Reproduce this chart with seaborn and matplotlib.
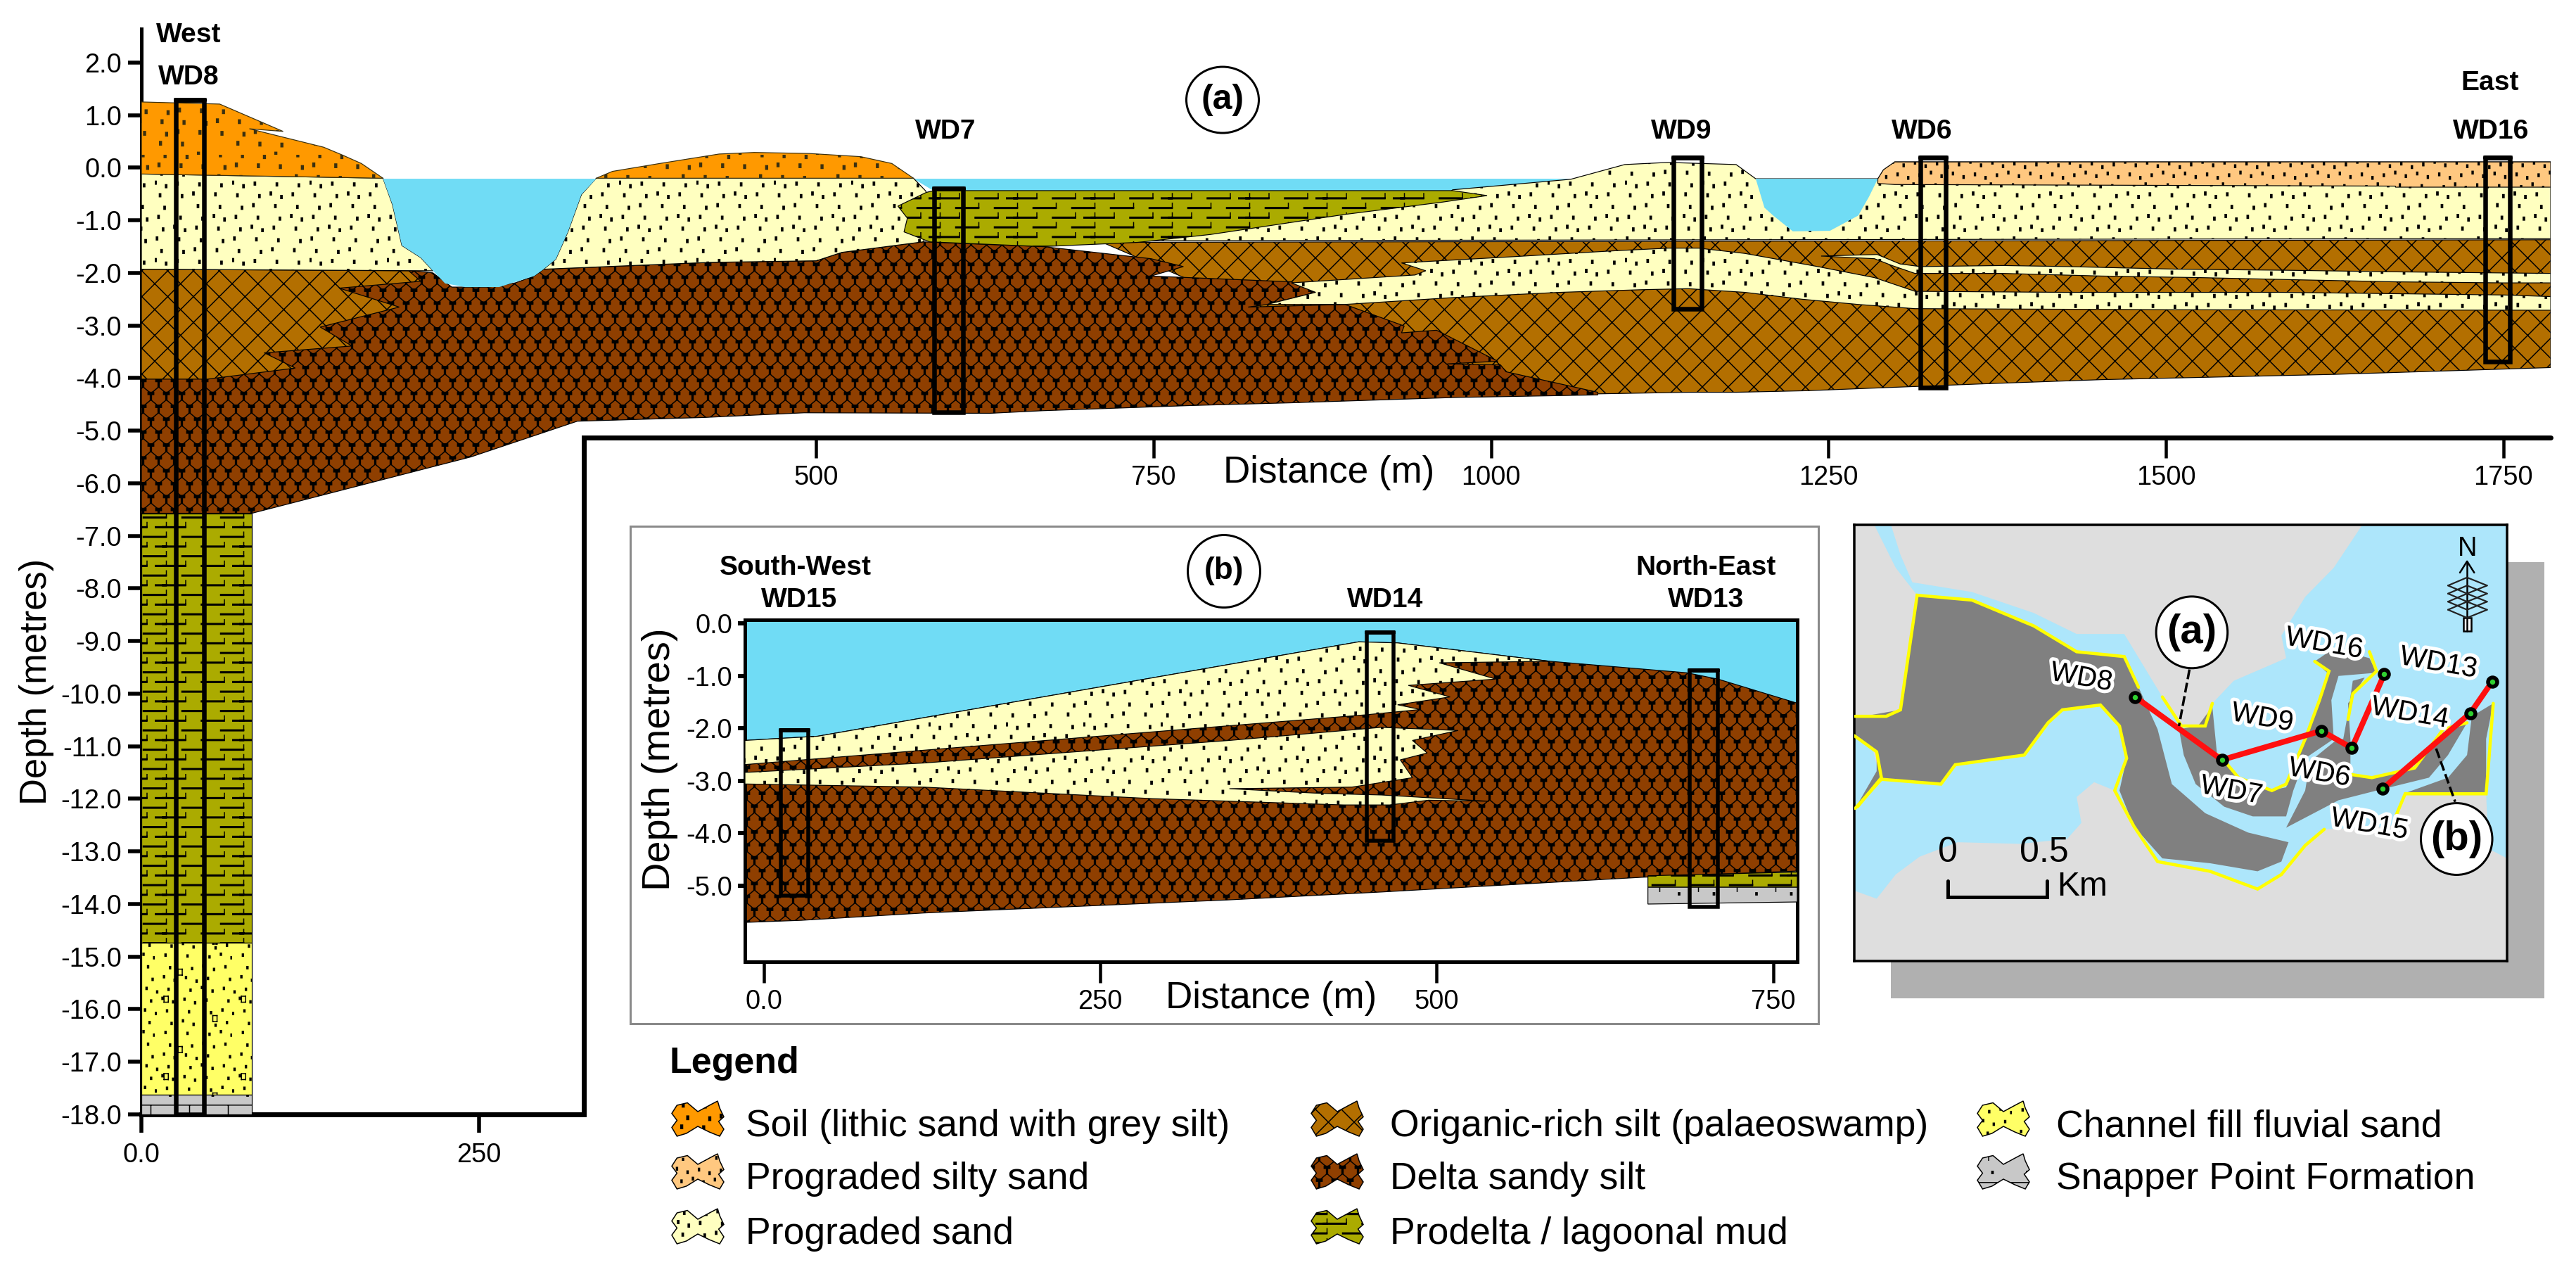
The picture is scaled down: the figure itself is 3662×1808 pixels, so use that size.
import numpy as np
import matplotlib
matplotlib.use("Agg")
import matplotlib.pyplot as plt
import matplotlib.hatch as mh
import matplotlib.patheffects as pe
from matplotlib.path import Path
from matplotlib.patches import Ellipse, Rectangle, Polygon
import seaborn as sns

W, H, DPI = 3662, 1808, 110
def pt(px):
    return px * 72 / DPI

# ---------- section (a): distance (m), depth (m) ----------
water_band_x = [572, 1059, 971.5, 587]
water_band_d = [-0.21, -0.21, -0.44, -0.44]
water_w_x = [179, 186, 193, 207, 216, 225, 240, 265, 291, 298, 307, 316, 326, 337]
water_w_d = [-0.21, -0.7, -1.48, -1.71, -1.96, -2.2, -2.27, -2.27, -2.06, -1.93, -1.74, -1.22, -0.51, -0.21]
water_e_x = [1196, 1202.5, 1209, 1223.5, 1251, 1272, 1280, 1286.5]
water_e_d = [-0.21, -0.76, -0.91, -1.21, -1.2, -0.91, -0.55, -0.21]
soil_w_x = [0, 58, 105, 80, 135, 149, 163, 179, 0]
soil_w_d = [1.25, 1.21, 0.69, 0.74, 0.39, 0.24, 0.08, -0.2, -0.12]
soil_m_x = [337, 349, 384, 428, 454, 495, 533, 556, 572]
soil_m_d = [-0.2, -0.07, 0.08, 0.26, 0.29, 0.27, 0.21, 0.08, -0.2]
silty_x = [1286.5, 1290.6, 1299, 1785, 1785, 1670, 1670, 1299, 1286.5]
silty_d = [-0.21, -0.04, 0.11, 0.11, -0.37, -0.37, -0.35, -0.32, -0.3]
sand_w_x = [0, 179, 186, 193, 207, 216, 0]
sand_w_d = [-0.12, -0.2, -0.7, -1.48, -1.71, -1.96, -1.93]
sand_m_x = [337, 326, 316, 307, 298, 421, 500, 519, 579, 590, 581, 572]
sand_m_d = [-0.2, -0.51, -1.22, -1.74, -1.93, -1.8, -1.77, -1.61, -1.41, -1.0, -0.44, -0.2]
sand_c_x = [712, 738, 792, 892, 963, 971.5, 1059, 1099, 1131, 1181.5, 1196, 1286.5, 1299, 1785, 1785, 1670, 712]
sand_c_d = [-1.42, -1.4, -1.25, -0.87, -0.6, -0.42, -0.22, 0.06, 0.1, 0.06, -0.21, -0.21, 0.11, 0.11, -1.35, -1.35, -1.39]
lens_x = [933.6, 951.6, 943.6, 852, 870, 834, 891.7, 971.5, 1051, 1111, 1146, 1188, 1230, 1272, 1314, 1507, 1785, 1785, 1750, 1586, 1425, 1314, 1284, 1242, 1188, 1154, 1131, 1091, 1011]
lens_d = [-1.81, -1.96, -2.04, -2.19, -2.37, -2.6, -2.6, -2.47, -2.37, -2.32, -2.3, -2.37, -2.5, -2.6, -2.68, -2.7, -2.71, -2.45, -2.42, -2.37, -2.37, -2.35, -2.09, -1.88, -1.63, -1.53, -1.53, -1.58, -1.7]
thin_x = [1244.5, 1286, 1303, 1318, 1379, 1427, 1509, 1590, 1670, 1785, 1785, 1750, 1670, 1595, 1525.5, 1452, 1379, 1314, 1297, 1284]
thin_d = [-1.68, -1.65, -1.83, -1.88, -1.86, -1.88, -1.93, -1.95, -1.98, -2.01, -2.19, -2.19, -2.17, -2.13, -2.09, -2.06, -2.01, -2.01, -1.86, -1.73]
mud_x = [581.5, 560.5, 567.5, 565, 584, 668, 738, 792, 892, 963.5, 997, 971.5, 587]
mud_d = [-0.47, -0.73, -0.96, -1.22, -1.41, -1.5, -1.42, -1.27, -0.887, -0.656, -0.53, -0.436, -0.436]
organic_w_x = [0, 198, 207, 146.5, 191, 132.5, 156, 91, 114, 49, 0]
organic_w_d = [-1.93, -1.96, -2.16, -2.29, -2.65, -3.03, -3.39, -3.52, -3.81, -4.02, -4.02]
organic_e_x = [712, 1785, 1785, 1712, 1624, 1538, 1452, 1364, 1284, 1234, 1181.5, 1146, 1079, 900]
organic_e_d = [-1.42, -1.37, -3.8, -3.86, -3.93, -3.98, -4.03, -4.11, -4.19, -4.24, -4.27, -4.27, -4.3, -3.5]
delta_x = [0, 202, 216, 230, 258, 277, 291, 298, 421, 500, 519, 579, 668, 748, 772, 748, 852, 870, 834, 820, 891.7, 935.6, 933.6, 959.5, 1005, 967.5, 1007, 1011, 1079, 1079, 971.5, 852, 780, 668, 628.5, 491, 416, 323, 244, 82, 0]
delta_d = [-1.93, -1.96, -2.0, -2.27, -2.27, -2.19, -2.06, -1.93, -1.8, -1.77, -1.61, -1.41, -1.5, -1.73, -1.88, -2.06, -2.17, -2.37, -2.6, -2.65, -2.6, -3.01, -3.14, -3.09, -3.68, -3.73, -3.75, -3.88, -4.27, -4.32, -4.37, -4.47, -4.52, -4.62, -4.67, -4.66, -4.75, -4.82, -5.5, -6.57, -6.57]
col_x = [0, 82]
col_mud_d = [-6.57, -14.74]
col_channel_d = [-14.74, -17.62]
col_snapper_d = [-17.62, -18.0]
wells_a = ["WD8", "WD7", "WD9", "WD6", "WD16"]
wells_a_left = [25.6, 587.5, 1135, 1318, 1736.4]
wells_a_right = [46.5, 608.6, 1156, 1337, 1755]
wells_a_top = [1.29, -0.40, 0.19, 0.19, 0.19]
wells_a_base = [-18.0, -4.65, -2.68, -4.18, -3.69]
a_yticks = list(range(2, -19, -1))
a_xticks_low = [0, 250]
a_xlabels_low = ["0.0", "250"]
a_xticks_up = [500, 750, 1000, 1250, 1500, 1750]

# ---------- section (b) ----------
b_water_x = [-14, 768, 768, -14]
b_water_d = [0.07, 0.07, -1.6, -2.3]
b_delta_x = [-14, 40, 442, 471, 584, 686, 709, 768, 768, 652, 459, 346, 119, 28, -14]
b_delta_d = [-2.23, -2.15, -0.35, -0.37, -0.72, -0.94, -1.06, -1.52, -4.72, -4.84, -5.12, -5.27, -5.52, -5.66, -5.7]
b_sand1_x = [-14, 40, 442, 471, 584, 502, 544, 479, 510, 471, 488, 448, -14]
b_sand1_d = [-2.23, -2.15, -0.35, -0.37, -0.72, -0.75, -1.06, -1.18, -1.4, -1.55, -1.64, -1.74, -2.69]
b_sand2_x = [-14, -14, 119, 289, 431, 465, 494, 539, 459, 414, 346, 437, 482, 473, 493, 482, 516, 459, 346, 119]
b_sand2_d = [-2.84, -3.06, -3.12, -3.34, -3.46, -3.46, -3.37, -3.39, -3.27, -3.24, -3.15, -3.12, -2.94, -2.6, -2.47, -2.23, -2.04, -1.98, -2.23, -2.66]
b_mud_x = [657, 768, 768, 657]
b_mud_d = [-4.81, -4.74, -5.03, -5.03]
b_snap_x = [657, 768, 768, 657]
b_snap_d = [-5.03, -5.03, -5.31, -5.35]
wells_b = ["WD15", "WD14", "WD13"]
wells_b_left = [12.5, 448, 688]
wells_b_right = [33, 468, 709]
wells_b_top = [-2.03, -0.17, -0.90]
wells_b_base = [-5.19, -4.14, -5.41]
b_yticks = [0, -1, -2, -3, -4, -5]
b_xticks = [0, 250, 500, 750]
b_xlabels = ["0.0", "250", "500", "750"]

# ---------- location map (map grid units, y measured downward) ----------
m_water_x = [95, 130, 150, 175, 300, 430, 520, 620, 700, 740, 790, 805, 850, 960, 950, 1000, 1060, 1120, 1424, 1424, 1385, 1380, 1210, 1190, 1180, 1040, 1000, 950, 900, 800, 690, 640, 600, 300, 150, 185, 140]
m_water_y = [57, 57, 150, 235, 265, 330, 395, 395, 590, 680, 680, 610, 540, 470, 400, 280, 190, 57, 57, 1090, 1060, 890, 890, 960, 990, 1000, 1050, 1140, 1185, 1130, 1100, 990, 880, 700, 630, 275, 190]
m_bay_x = [53, 110, 235, 265, 410, 460, 490, 570, 610, 625, 600, 560, 520, 530, 500, 400, 270, 190, 140, 100, 53]
m_bay_y = [935, 845, 860, 800, 770, 670, 630, 615, 680, 780, 880, 850, 900, 980, 1030, 1045, 1040, 1085, 1140, 1215, 1190]
m_small_x = [53, 90, 100, 110, 60, 53]
m_small_y = [710, 740, 800, 840, 930, 935]
land1_x = [185, 300, 430, 520, 620, 650, 690, 720, 790, 880, 965, 950, 900, 800, 700, 640, 610, 625, 610, 570, 490, 460, 410, 265, 235, 110, 55, 100, 100, 53, 53, 150]
land1_y = [275, 290, 370, 450, 465, 560, 690, 860, 950, 1010, 1040, 1100, 1130, 1105, 1090, 990, 880, 780, 680, 615, 630, 670, 770, 800, 860, 845, 935, 820, 760, 710, 655, 630]
land2_x = [735, 775, 805, 815, 860, 925, 960, 1000, 1030, 1050, 1020, 1060, 1135, 1150, 1070, 1055, 1060, 1000, 975, 960, 890, 830, 770, 745]
land2_y = [690, 680, 620, 770, 840, 880, 870, 720, 600, 520, 480, 440, 470, 515, 525, 600, 720, 780, 880, 960, 960, 930, 860, 770]
land3_x = [960, 1000, 1010, 1060, 1080, 1090, 1100, 1125, 1090, 1095, 1095, 1140, 1230, 1290, 1340, 1300, 1260, 1150, 1070]
land3_y = [995, 880, 790, 730, 720, 640, 540, 530, 610, 720, 830, 840, 810, 700, 670, 770, 840, 880, 910]
land4_x = [1350, 1395, 1380, 1380, 1215, 1300, 1340]
land4_y = [650, 610, 720, 885, 885, 840, 770]
coast_x = [[55, 120, 150, 185, 300, 430, 520, 620, 650],
           [55, 110, 235, 265, 410, 460, 490, 570, 610, 625, 600, 640, 690, 800, 900, 950, 1000, 1040],
           [1190, 1210, 1380, 1385, 1395],
           [53, 100, 110, 60],
           [700, 740, 790, 805],
           [820, 860, 930, 960, 1000, 1030, 1050, 1020],
           [1135, 1150, 1100, 1090],
           [1095, 1140, 1230, 1290, 1340]]
coast_y = [[650, 650, 630, 275, 290, 370, 450, 465, 560],
           [935, 845, 860, 800, 770, 670, 630, 615, 680, 780, 880, 990, 1100, 1130, 1185, 1140, 1050, 1000],
           [960, 890, 890, 800, 610],
           [710, 760, 840, 930],
           [590, 680, 680, 610],
           [770, 840, 880, 860, 720, 600, 510, 480],
           [450, 510, 580, 660],
           [830, 840, 810, 690, 670]]
route1_names = ["WD8", "WD7", "WD9", "WD6", "WD16"]
route1_x = [643, 825, 1034, 1098, 1166]
route1_y = [590, 785, 695, 748, 520]
route2_names = ["WD15", "WD14", "WD13"]
route2_x = [1162, 1347, 1393]
route2_y = [875, 640, 542]
map_labels = ["WD8", "WD9", "WD16", "WD13", "WD14", "WD6", "WD7", "WD15"]
map_label_x = [530, 910, 1040, 1280, 1220, 1030, 845, 1135]
map_label_y = [530, 655, 425, 485, 640, 825, 880, 985]

# ---------- legend ----------
legend_names = ["Soil (lithic sand with grey silt)", "Prograded silty sand", "Prograded sand",
                "Origanic-rich silt (palaeoswamp)", "Delta sandy silt", "Prodelta / lagoonal mud",
                "Channel fill fluvial sand", "Snapper Point Formation"]

C = dict(soil="#FF9900", silty="#FFC880", sand="#FFFFC0", organic="#B36F00", delta="#8F3F00",
         mud="#ABAB00", channel="#FFFF66", snapper="#C8C8C8", water="#70DCF5")
HATCH = dict(soil="*", silty="o", sand=".", organic="x", delta="|", mud="-", channel="O", snapper="+")


# ---------- lithology textures as hatch tiles ----------
def _rect(cx, cy, w, h):
    return ([(cx - w/2, cy - h/2), (cx + w/2, cy - h/2), (cx + w/2, cy + h/2), (cx - w/2, cy + h/2), (cx - w/2, cy - h/2)],
            [Path.MOVETO, Path.LINETO, Path.LINETO, Path.LINETO, Path.CLOSEPOLY])

def _seg(a, b, c, d):
    return ([(a, b), (c, d)], [Path.MOVETO, Path.LINETO])

def _stipple(n, w, h, offset=0.5):
    return [_rect((offset + i * 0.7549) % 1, (offset + i * 0.5698) % 1, w, h) for i in range(n)]

def _texture(ch):
    out = []
    if ch == ".":
        out = _stipple(32, 0.02, 0.04)
    elif ch == "*":
        out = _stipple(26, 0.026, 0.048, 0.3)
    elif ch == "o":
        out = _stipple(50, 0.017, 0.036, 0.2)
    elif ch == "O":
        out = _stipple(40, 0.017, 0.03, 0.1)
        for a, b in [(0.3, 0.4), (0.75, 0.8), (0.12, 0.05)]:
            s = 0.055
            out += [_seg(a, b, a + s, b), _seg(a + s, b, a + s, b + 1.4 * s),
                    _seg(a + s, b + 1.4 * s, a, b + 1.4 * s), _seg(a, b + 1.4 * s, a, b)]
    elif ch == "x":
        for i in range(-3, 7):
            out.append(_seg(i / 3, 0, (i + 3) / 3, 1))
            out.append(_seg((i + 3) / 3, 0, i / 3, 1))
    elif ch == "|":
        rows, cols = 6, 5
        cw, rh = 1 / cols, 1 / rows
        for r in range(-1, rows + 1):
            y = r * rh
            off = 0 if r % 2 == 0 else 0.5
            for c in range(-1, cols + 1):
                x = (c + off + 0.25) * cw
                out.append(_rect(x, y + 0.25 * rh, 0.016, 0.5 * rh))
                out.append(_rect(x, y + 0.5 * rh, 0.075, 0.03))
                out.append(_seg(x, y + 0.5 * rh, x + 0.5 * cw, y + rh))
                out.append(_seg(x, y + 0.5 * rh, x - 0.5 * cw, y + rh))
    elif ch == "-":
        rows = 8
        for r in range(rows):
            y = (r + 0.5) / rows
            off = 0 if r % 2 == 0 else 0.25
            for c in (0, 0.5, 1.0):
                x = (c + off) % 1.25
                out.append(_rect(x, y, 0.3, 0.014))
                out.append(_seg(x + 0.15, y, x + 0.15, y + 0.5 / rows))
    elif ch == "+":
        for y in (0.22, 0.72):
            out.append(_seg(0, y, 1, y))
        for x, y in [(0.2, 0.1), (0.7, 0.1), (0.45, 0.6), (0.95, 0.6)]:
            out.append(_seg(x, y - 0.12, x, y + 0.12))
        out += [_rect(x, y, 0.02, 0.03) for x, y in [(0.45, 0.1), (0.15, 0.45), (0.7, 0.45), (0.2, 0.85), (0.75, 0.85)]]
    return out


class Texture(mh.HatchPatternBase):
    def __init__(self, hatch, density):
        self.parts = []
        for ch in set(hatch):
            self.parts += _texture(ch)
        self.num_vertices = sum(len(p[0]) for p in self.parts)

    def set_vertices_and_codes(self, vertices, codes):
        i = 0
        for v, c in self.parts:
            n = len(v)
            vertices[i:i + n] = v
            codes[i:i + n] = c
            i += n


mh._hatch_types[:] = [Texture]

sns.set_theme(style="ticks", rc={"hatch.linewidth": pt(1.5), "axes.facecolor": "none", "axes.axisbelow": False,
                                 "xtick.bottom": True, "ytick.left": True})
plt.rcParams["font.family"] = ["Liberation Sans", "DejaVu Sans"]

fig = plt.figure(figsize=(W / DPI, H / DPI), dpi=DPI, facecolor="white")


def px_axes(l, t, r, b, z):
    ax = fig.add_axes([l / W, 1 - b / H, (r - l) / W, (b - t) / H], zorder=z)
    ax.patch.set_alpha(0)
    return ax


def layer(ax, x, y, kind, z, lw=1.2, edge="black"):
    ax.add_patch(Polygon(np.column_stack([x, y]), closed=True, facecolor=C[kind], edgecolor=edge,
                         hatch=HATCH[kind], linewidth=pt(lw), zorder=z))


def water(ax, x, y, z):
    ax.fill(x, y, color=C["water"], lw=0, zorder=z)


def line(ax, x, y, color="black", w=6, z=8, **kw):
    sns.lineplot(x=list(x), y=list(y), ax=ax, sort=False, estimator=None, color=color,
                 linewidth=pt(w), legend=False, zorder=z, solid_joinstyle="miter", **kw)


bg = px_axes(0, 0, W, H, 0)
bg.set_xlim(0, W); bg.set_ylim(H, 0); bg.axis("off")
bg.add_patch(Rectangle((2688, 799), 929, 620, facecolor="#B0B0B0", edgecolor="none"))
bg.add_patch(Rectangle((896, 748), 1689, 707, facecolor="white", edgecolor="#8a8a8a", linewidth=pt(3)))

# ---------- section (a) ----------
ax = px_axes(201, 41, 3626, 1584, 1)
water(ax, water_band_x, water_band_d, 1)
layer(ax, organic_e_x, organic_e_d, "organic", 2)
layer(ax, delta_x, delta_d, "delta", 3)
layer(ax, organic_w_x, organic_w_d, "organic", 4)
layer(ax, sand_w_x, sand_w_d, "sand", 4)
layer(ax, sand_m_x, sand_m_d, "sand", 4)
layer(ax, sand_c_x, sand_c_d, "sand", 4)
layer(ax, lens_x, lens_d, "sand", 5)
layer(ax, thin_x, thin_d, "sand", 5)
layer(ax, mud_x, mud_d, "mud", 5)
layer(ax, soil_w_x, soil_w_d, "soil", 6, edge="#3a3010")
layer(ax, soil_m_x, soil_m_d, "soil", 6, edge="#3a3010")
layer(ax, silty_x, silty_d, "silty", 6)
water(ax, water_w_x, water_w_d, 6)
water(ax, water_e_x, water_e_d, 6)
for kind, dd in [("mud", col_mud_d), ("channel", col_channel_d), ("snapper", col_snapper_d)]:
    layer(ax, [col_x[0], col_x[1], col_x[1], col_x[0]], [dd[0], dd[0], dd[1], dd[1]], kind, 5)
for l, r, t, b in zip(wells_a_left, wells_a_right, wells_a_top, wells_a_base):
    line(ax, [l, r, r, l, l, r], [t, t, b, b, t, t], w=6.5)
ax.set_xlim(0, 1785)
ax.set_ylim(-18, 2.64)
ax.set_yticks(a_yticks, labels=[f"{v:.1f}" for v in a_yticks])
ax.set_xticks(a_xticks_low, labels=a_xlabels_low)
ax.set_xlabel(""); ax.set_ylabel("")
ax.tick_params(axis="y", direction="out", left=True, length=pt(19), width=pt(5.5), pad=pt(9), labelsize=pt(38), color="black", labelcolor="black")
ax.tick_params(axis="x", direction="out", bottom=True, length=pt(26), width=pt(5.5), pad=pt(14), labelsize=pt(38), color="black", labelcolor="black")
for s in ("top", "right"):
    ax.spines[s].set_visible(False)
ax.spines["left"].set_visible(True); ax.spines["left"].set_linewidth(pt(5)); ax.spines["left"].set_color("black")
ax.spines["bottom"].set_linewidth(pt(7)); ax.spines["bottom"].set_color("black"); ax.spines["bottom"].set_bounds(0, 328)
step_y = -5.13
line(ax, [328, 328, 1785], [-18, step_y, step_y], w=7, z=9, clip_on=False)
# upper distance scale sits on the stepped part of the axis
axu = px_axes(201, 621, 3626, 622, 1)
axu.set_xlim(0, 1785)
axu.set_yticks([])
axu.set_xticks(a_xticks_up, labels=[str(v) for v in a_xticks_up])
axu.tick_params(axis="x", direction="out", bottom=True, length=pt(29), width=pt(4.5), pad=pt(10), labelsize=pt(38), color="black", labelcolor="black")
for s in axu.spines.values():
    s.set_visible(False)

# ---------- section (b) ----------
axb = px_axes(1059, 881, 2555, 1367, 2)
axb.add_patch(Rectangle((-14, -6.45), 782, 6.52, facecolor="white", edgecolor="none", zorder=0))
water(axb, b_water_x, b_water_d, 1)
layer(axb, b_delta_x, b_delta_d, "delta", 2)
layer(axb, b_sand1_x, b_sand1_d, "sand", 3)
layer(axb, b_sand2_x, b_sand2_d, "sand", 3)
layer(axb, b_mud_x, b_mud_d, "mud", 3)
layer(axb, b_snap_x, b_snap_d, "snapper", 3)
for l, r, t, b in zip(wells_b_left, wells_b_right, wells_b_top, wells_b_base):
    line(axb, [l, r, r, l, l, r], [t, t, b, b, t, t], w=5.5)
axb.set_xlim(-14, 768)
axb.set_ylim(-6.45, 0.07)
axb.set_yticks(b_yticks, labels=[f"{v:.1f}" for v in b_yticks])
axb.set_xticks(b_xticks, labels=b_xlabels)
axb.set_xlabel(""); axb.set_ylabel("")
axb.tick_params(axis="y", direction="out", left=True, length=pt(10), width=pt(6), pad=pt(8), labelsize=pt(38), color="black", labelcolor="black")
axb.tick_params(axis="x", direction="out", bottom=True, length=pt(30), width=pt(4.5), pad=pt(9), labelsize=pt(38), color="black", labelcolor="black")
for s in axb.spines.values():
    s.set_visible(True); s.set_linewidth(pt(5)); s.set_color("black")

# ---------- location map ----------
axm = px_axes(2636, 746, 3564, 1366, 2)
axm.set_facecolor("#DEDEDE"); axm.patch.set_alpha(1)
axm.fill(m_water_x, m_water_y, color="#ADE6FB", lw=0, zorder=1)
axm.fill(m_bay_x, m_bay_y, color="#ADE6FB", lw=0, zorder=1)
axm.fill(m_small_x, m_small_y, color="#ADE6FB", lw=0, zorder=1)
for lx, ly in [(land1_x, land1_y), (land2_x, land2_y), (land3_x, land3_y), (land4_x, land4_y)]:
    axm.fill(lx, ly, color="#808080", lw=0, zorder=2)
for cx, cy in zip(coast_x, coast_y):
    line(axm, cx, cy, color="#FFFF00", w=4.5, z=3)
line(axm, route1_x, route1_y, color="#FF1010", w=8, z=5)
line(axm, route2_x, route2_y, color="#FF1010", w=8, z=5)
sns.scatterplot(x=route1_x + route2_x, y=route1_y + route2_y, ax=axm, color="#30D030", edgecolor="black",
                s=pt(13) ** 2, linewidth=pt(5.5), zorder=6, legend=False)
# callouts
axm.plot([757, 735], [505, 680], color="black", lw=pt(3.5), ls=(0, (4, 1.5)), zorder=7)
axm.plot([1275, 1315], [750, 915], color="black", lw=pt(3.5), ls=(0, (4, 1.5)), zorder=7)
for cx, cy, s in [(762, 390, "(a)"), (1318, 1030, "(b)")]:
    axm.add_patch(Ellipse((cx, cy), 150, 222, facecolor="white", edgecolor="black", linewidth=pt(3), zorder=8))
    axm.text(cx, cy, s, ha="center", va="center", fontsize=pt(58), fontweight="bold", color="black", zorder=9)
halo = [pe.withStroke(linewidth=pt(10), foreground="white")]
for s, x, y in zip(map_labels, map_label_x, map_label_y):
    axm.text(x, y, s, ha="center", va="center", rotation=-10, fontsize=pt(40), color="black", zorder=7, path_effects=halo)
# scale bar
line(axm, [250, 250, 458, 458], [1160, 1210, 1210, 1160], w=5, z=6)
axm.text(250, 1072, "0", ha="center", va="center", fontsize=pt(50), color="black")
axm.text(452, 1072, "0.5", ha="center", va="center", fontsize=pt(50), color="black")
axm.text(532, 1178, "Km", ha="center", va="center", fontsize=pt(48), color="black")
# north arrow
axm.text(1340, 130, "N", ha="center", va="center", fontsize=pt(38), color="black")
axm.plot([1340, 1340], [170, 385], color="black", lw=pt(2.5))
axm.plot([1325, 1340, 1355], [205, 170, 205], color="black", lw=pt(2.5))
for yy in (225, 250, 275, 300):
    axm.plot([1300, 1340, 1382], [yy + 20, yy - 5, yy + 20], color="#222222", lw=pt(2.2))
    axm.plot([1300, 1340, 1382], [yy + 20, yy + 45, yy + 20], color="#222222", lw=pt(2.2))
axm.add_patch(Rectangle((1332, 345), 16, 40, facecolor="white", edgecolor="black", linewidth=pt(2.5)))
axm.set_xlim(53, 1424); axm.set_ylim(1408, 57)
axm.set_xticks([]); axm.set_yticks([]); axm.set_xlabel(""); axm.set_ylabel("")
for s in axm.spines.values():
    s.set_visible(True); s.set_linewidth(pt(3.5)); s.set_color("black")

# ---------- text, labels, legend ----------
ov = px_axes(0, 0, W, H, 5)
ov.set_xlim(0, W); ov.set_ylim(H, 0); ov.axis("off")
bold = dict(ha="center", va="center", fontsize=pt(39), fontweight="bold", color="black")
for s, x, y in [("West", 268, 50), ("WD8", 268, 110), ("WD7", 1344, 187), ("WD9", 2390, 187), ("WD6", 2732, 187),
                ("WD16", 3541, 187), ("East", 3540, 118), ("South-West", 1131, 807), ("WD15", 1136, 853),
                ("WD14", 1969, 853), ("North-East", 2425, 807), ("WD13", 2425, 853)]:
    ov.text(x, y, s, **bold)
for cx, cy, wd, ht, s, fs in [(1738, 142, 103, 94, "(a)", 50), (1740, 812, 103, 103, "(b)", 44)]:
    ov.add_patch(Ellipse((cx, cy), wd, ht, facecolor="white", edgecolor="black", linewidth=pt(3)))
    ov.text(cx, cy, s, ha="center", va="center", fontsize=pt(fs), fontweight="bold", color="black")
ov.text(52, 969, "Depth (metres)", rotation=90, ha="center", va="center", fontsize=pt(52.5), color="black")
ov.text(938, 1079, "Depth (metres)", rotation=90, ha="center", va="center", fontsize=pt(56), color="black")
ov.text(1889, 672, "Distance (m)", ha="center", va="center", fontsize=pt(53), color="black")
ov.text(1807, 1419, "Distance (m)", ha="center", va="center", fontsize=pt(53), color="black")
ov.text(952, 1525, "Legend", ha="left", va="baseline", fontsize=pt(52), fontweight="bold", color="black")

swatch_x = [0.1, 0.3, 0.5, 0.75, 0.88, 0.92, 1, 0.9, 1, 0.92, 0.72, 0.5, 0.28, 0.1, 0, 0.1, 0]
swatch_y = [0.12, 0.05, 0.3, 0.1, 0, 0.2, 0.45, 0.58, 0.8, 1, 0.88, 0.72, 0.92, 1, 0.75, 0.55, 0.35]
leg_kinds = ["soil", "silty", "sand", "organic", "delta", "mud", "channel", "snapper"]
leg_col = [955, 955, 955, 1864, 1864, 1864, 2811, 2811]
leg_base = [1615, 1690, 1768, 1615, 1690, 1768, 1615, 1690]
for kind, name, lx, by in zip(leg_kinds, legend_names, leg_col, leg_base):
    xs = lx + np.array(swatch_x) * 74
    ys = by - 50 + np.array(swatch_y) * 50
    ov.add_patch(Polygon(np.column_stack([xs, ys]), closed=True, facecolor=C[kind], edgecolor="black",
                         hatch=HATCH[kind], linewidth=pt(1.5)))
    ov.text(lx + 110 - (5 if lx == 955 else -2 if lx == 1864 else -2), by, name, ha="left", va="baseline",
            fontsize=pt(53.5), color="black")

fig.savefig("out.png", dpi=DPI, facecolor="white")
